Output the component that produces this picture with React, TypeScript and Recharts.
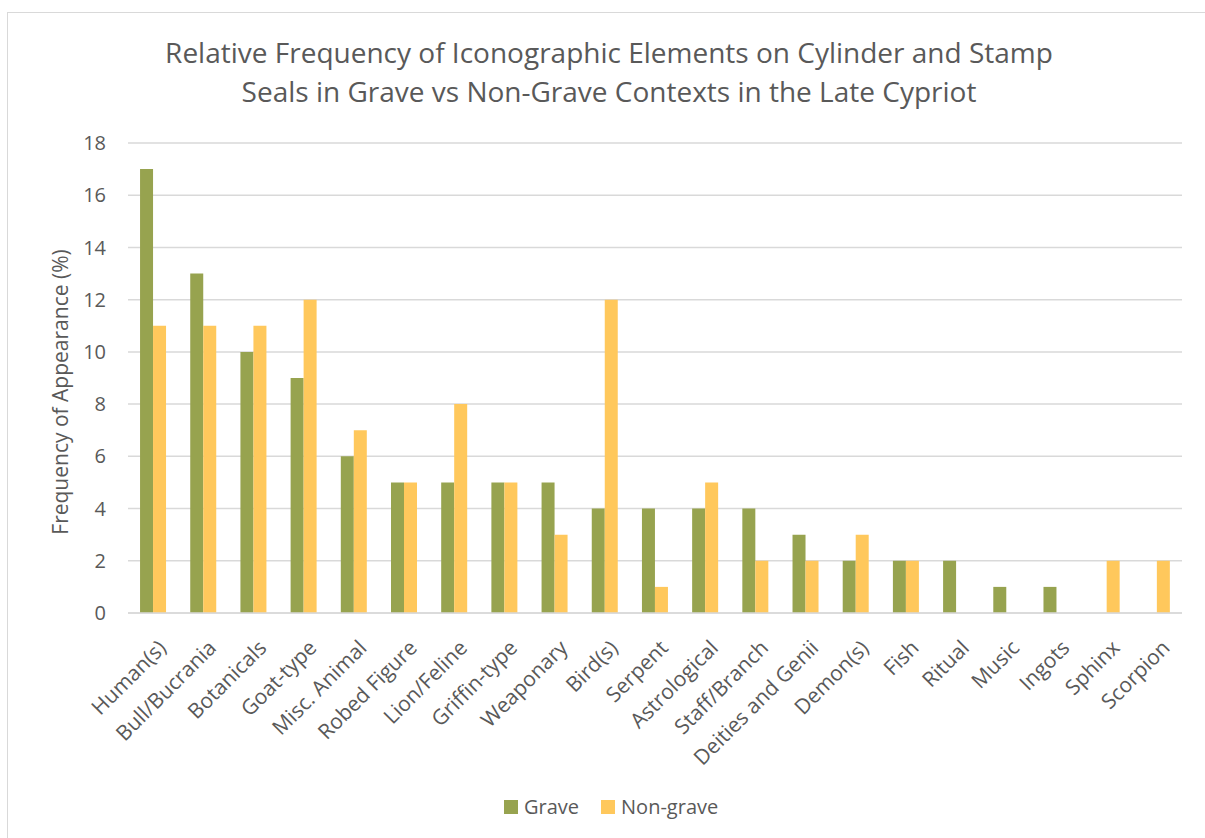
import { BarChart, Bar, CartesianGrid, XAxis, YAxis, Legend } from 'recharts';

const categories = [
  'Human(s)', 'Bull/Bucrania', 'Botanicals', 'Goat-type', 'Misc. Animal', 'Robed Figure',
  'Lion/Feline', 'Griffin-type', 'Weaponary', 'Bird(s)', 'Serpent', 'Astrological',
  'Staff/Branch', 'Deities and Genii', 'Demon(s)', 'Fish', 'Ritual', 'Music', 'Ingots',
  'Sphinx', 'Scorpion',
];
const grave = [17, 13, 10, 9, 6, 5, 5, 5, 5, 4, 4, 4, 4, 3, 2, 2, 2, 1, 1, 0, 0];
const nonGrave = [11, 11, 11, 12, 7, 5, 8, 5, 3, 12, 1, 5, 2, 2, 3, 2, 0, 0, 0, 2, 2];
const yTicks = [0, 2, 4, 6, 8, 10, 12, 14, 16, 18];

const data = categories.map((name, i) => ({ name, grave: grave[i], nonGrave: nonGrave[i] }));

const FONT = '"Open Sans", sans-serif';
const TEXT = '#595959';
const GREEN = '#97a34f';
const YELLOW = '#ffc85c';

function XTick({ x, y, payload }: any) {
  return (
    <g transform={`translate(${x + 10},${y + 24})`}>
      <text
        transform="rotate(-45)"
        textAnchor="end"
        dy={6}
        fill={TEXT}
        fontSize={21}
        fontFamily={FONT}
      >
        {payload.value}
      </text>
    </g>
  );
}

function LegendContent() {
  const items = [
    { label: 'Grave', color: GREEN },
    { label: 'Non-grave', color: YELLOW },
  ];
  return (
    <div style={{ display: 'flex', alignItems: 'center', fontFamily: FONT, fontSize: 20, color: TEXT }}>
      {items.map((it) => (
        <div key={it.label} style={{ display: 'flex', alignItems: 'center', marginRight: 22 }}>
          <span style={{ width: 14, height: 14, background: it.color, display: 'inline-block', marginRight: 6 }} />
          <span>{it.label}</span>
        </div>
      ))}
    </div>
  );
}

export default function App() {
  return (
    <div style={{ position: 'fixed', left: 0, top: 0, width: 1205, height: 838, overflow: 'hidden', background: '#fff' }}>
      <div
        style={{
          position: 'absolute', left: 7, top: 12, width: 1400, height: 1000,
          border: '1px solid #d9d9d9',
        }}
      />
      <div
        style={{
          position: 'absolute', left: 0, top: 33, width: 1218, textAlign: 'center',
          fontFamily: FONT, fontSize: 28, color: TEXT, lineHeight: '39px',
        }}
      >
        Relative Frequency of Iconographic Elements on Cylinder and Stamp
        <br />
        Seals in Grave vs Non-Grave Contexts in the Late Cypriot
      </div>
      <div
        style={{
          position: 'absolute', left: 60, top: 392, width: 0, height: 0,
        }}
      >
        <div
          style={{
            position: 'absolute', transform: 'translate(-50%, -50%) rotate(-90deg)',
            whiteSpace: 'nowrap', fontFamily: FONT, fontSize: 21, color: TEXT,
          }}
        >
          Frequency of Appearance (%)
        </div>
      </div>
      <div style={{ position: 'absolute', left: 0, top: 0 }}>
        <BarChart
          width={1205}
          height={838}
          data={data}
          margin={{ top: 143, right: 23, left: 28, bottom: 50 }}
          barCategoryGap="24%"
          barGap={0}
        >
          <CartesianGrid vertical={false} stroke="#d9d9d9" strokeWidth={1.5} />
          <XAxis
            dataKey="name"
            interval={0}
            height={175}
            tick={<XTick />}
            tickLine={false}
            axisLine={{ stroke: '#d9d9d9', strokeWidth: 1.5 }}
          />
          <YAxis
            width={100}
            domain={[0, 18]}
            ticks={yTicks}
            interval={0}
            tickLine={false}
            axisLine={false}
            tickMargin={16}
            tick={{ fill: TEXT, fontSize: 20, fontFamily: FONT }}
          />
          <Legend
            layout="horizontal"
            verticalAlign="middle"
            align="center"
            content={<LegendContent />}
            wrapperStyle={{ left: 504, top: 793, width: 'auto', height: 28 }}
          />
          <Bar dataKey="grave" name="Grave" fill={GREEN} isAnimationActive={false} />
          <Bar dataKey="nonGrave" name="Non-grave" fill={YELLOW} isAnimationActive={false} />
        </BarChart>
      </div>
    </div>
  );
}
